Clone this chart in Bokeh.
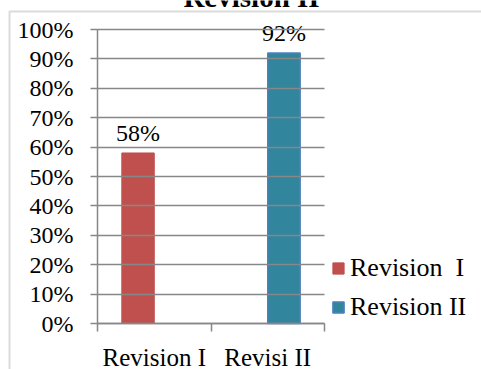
from bokeh.plotting import figure
from bokeh.models import (Range1d, FixedTicker, NumeralTickFormatter, ColumnDataSource,
                          Legend, LegendItem, Label, BoxAnnotation)
from bokeh.transform import dodge
from bokeh.core.properties import value
from bokeh.embed import file_html
from bokeh.resources import INLINE

# ---- data ----
title = "Revision II"
categories = ["Revision I", "Revisi II"]
series_names = ["Revision  I", "Revision II"]
rev1 = [0.58, None]
rev2 = [None, 0.92]
y_ticks = [0.0, 0.1, 0.2, 0.3, 0.4, 0.5, 0.6, 0.7, 0.8, 0.9, 1.0]

FONT = "Liberation Serif"
RED = "#C0504D"
TEAL = "#31859C"
EDGE = "#4F81BD"
GRAY = "#878787"

W, H = 481, 369
# plot-area placement in pixels (layout only)
AX_L, AX_R, AX_T, AX_B = 97, 324, 29, 323
ncat = len(categories)
px_x = (AX_R - AX_L) / ncat
px_y = (AX_B - AX_T) / 1.0

xc = [i + 0.5 for i in range(ncat)]
nan = float("nan")
src = ColumnDataSource(dict(
    x=xc,
    r1=[v if v is not None else nan for v in rev1],
    r2=[v if v is not None else nan for v in rev2],
    l1=[f"{round(v*100)}%" if v is not None else "" for v in rev1],
    l2=[f"{round(v*100)}%" if v is not None else "" for v in rev2],
))

p = figure(width=W, height=H, output_backend="svg", toolbar_location=None, title=None,
           x_range=Range1d(-AX_L / px_x, ncat + (W - AX_R) / px_x),
           y_range=Range1d(-(H - AX_B) / px_y, 1 + AX_T / px_y),
           min_border=0, min_border_left=0, min_border_right=0,
           min_border_top=0, min_border_bottom=0)
p.outline_line_color = None
p.background_fill_color = "white"
p.border_fill_color = "white"
p.xgrid.visible = False
p.ygrid.visible = False

w = 1 / 3.5
b1 = p.vbar(x=dodge("x", -w / 2), top="r1", bottom=0, width=w, source=src,
            fill_color=RED, line_color=RED)
b2 = p.vbar(x=dodge("x", w / 2), top="r2", bottom=0, width=w, source=src,
            fill_color=TEAL, line_color=EDGE, line_width=1.5)

for col, off in (("l1", -w / 2), ("l2", w / 2)):
    ycol = "r1" if col == "l1" else "r2"
    p.text(x=dodge("x", off), y=ycol, text=col, source=src, text_align="center",
           text_baseline="alphabetic", y_offset=-20, text_font=value(FONT),
           text_font_size="24px", text_color="black")

# y axis (its inward ticks form the horizontal gridlines)
yax = p.yaxis[0]
yax.fixed_location = 0
yax.bounds = (0, 1)
yax.ticker = FixedTicker(ticks=y_ticks)
yax.formatter = NumeralTickFormatter(format="0%")
yax.major_tick_out = 7
yax.major_tick_in = AX_R - AX_L
yax.minor_tick_out = 0
yax.minor_tick_in = 0
yax.major_label_standoff = 17
yax.axis_line_color = GRAY
yax.axis_line_width = 1.5
yax.major_tick_line_color = GRAY
yax.major_tick_line_width = 1.5
yax.major_label_text_font = FONT
yax.major_label_text_font_size = "24px"
yax.major_label_text_color = "black"

# x axis
xax = p.xaxis[0]
xax.fixed_location = 0
xax.bounds = (0, ncat)
xax.ticker = FixedTicker(ticks=xc, minor_ticks=list(range(ncat + 1)))
xax.major_label_overrides = {x: c for x, c in zip(xc, categories)}
xax.major_tick_out = 0
xax.major_tick_in = 0
xax.minor_tick_out = 8
xax.minor_tick_in = 0
xax.minor_tick_line_color = GRAY
xax.minor_tick_line_width = 1.5
xax.axis_line_color = GRAY
xax.axis_line_width = 1.5
xax.major_label_standoff = 12
xax.major_label_text_font = FONT
xax.major_label_text_font_size = "25px"
xax.major_label_text_color = "black"

legend = Legend(items=[LegendItem(label=series_names[0], renderers=[b1]),
                       LegendItem(label=series_names[1], renderers=[b2])],
                location=(331, H - 322), padding=0, margin=0, spacing=9,
                glyph_width=14, glyph_height=14, label_standoff=5,
                border_line_color=None, background_fill_alpha=0,
                label_text_font=FONT, label_text_font_size="26px", label_text_color="black")
p.add_layout(legend, "center")

p.add_layout(Label(x=251, y=H + 4, x_units="screen", y_units="screen", text=title,
                   text_align="center", text_baseline="alphabetic",
                   text_font=FONT, text_font_style="bold", text_font_size="29px",
                   text_color="black"))

# chart-area border (only top and left edges fall inside the picture)
p.add_layout(BoxAnnotation(left=9, right=W + 50, top=H - 11, bottom=-50,
                           left_units="screen", right_units="screen",
                           top_units="screen", bottom_units="screen",
                           fill_alpha=0, line_color=GRAY, line_width=2))

open("out.html", "w").write(file_html(p, INLINE))
